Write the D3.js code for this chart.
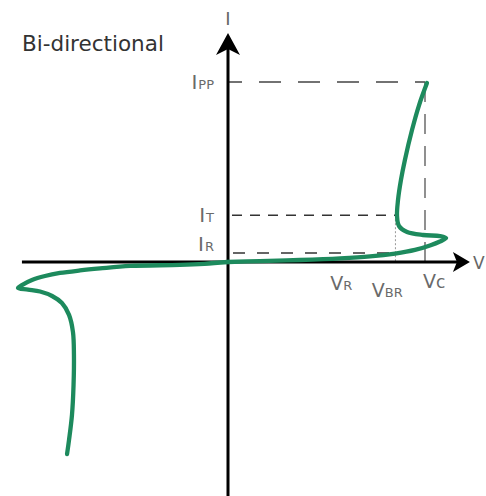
<!DOCTYPE html>
<html>
<head>
<meta charset="utf-8">
<script src="https://cdn.jsdelivr.net/npm/d3@7"></script>
<style>
  html, body { margin: 0; padding: 0; background: #fff; }
  svg { display: block; }
</style>
</head>
<body>
<div id="chart"></div>
<script>
// ---- data (V in units where Vc = 10, I in units where Ipp = 10) ----
const title = "Bi-directional";
const axisNames = ["I", "V"];

// forward (first quadrant) branch, from origin up to Ipp
const forwardV = [0, 1.62, 3.65, 5.69, 7.21, 8.48, 9.49, 10.25, 10.76, 11.07, 10.76, 9.90, 9.09, 8.68, 8.58, 8.63, 8.78, 8.98, 9.34, 9.70, 10.10];
const forwardI = [0, 0.05, 0.11, 0.20, 0.31, 0.47, 0.67, 0.92, 1.14, 1.33, 1.44, 1.50, 1.67, 2.00, 2.56, 3.44, 4.56, 5.67, 7.33, 8.72, 9.94];

// reverse (third quadrant) branch, from origin down
const reverseV = [0, -1.20, -2.44, -4.97, -6.50, -7.51, -8.53, -9.29, -9.95, -10.46, -10.66, -10.15, -9.54, -8.93, -8.43, -8.07, -7.87, -7.82, -7.84, -7.92, -8.07, -8.17];
const reverseI = [0, -0.10, -0.16, -0.22, -0.36, -0.47, -0.61, -0.78, -1.00, -1.28, -1.44, -1.53, -1.64, -1.89, -2.28, -2.94, -3.89, -5.17, -6.83, -8.50, -9.89, -10.67];

// current reference levels
const currentSubs = ["PP", "T", "R"];
const currentValues = [10, 2.6, 0.5];

// voltage reference levels
const voltageSubs = ["R", "BR", "c"];
const voltageValues = [5.6, 8.5, 10];

// axis extents
const vExtent = [-10.46, 12.28];
const iExtent = [-13.0, 12.72];

// ---- layout ----
const W = 486, H = 496;
const x = d3.scaleLinear().domain([0, 10]).range([228, 425]);
const y = d3.scaleLinear().domain([0, 10]).range([262, 82]);

const svg = d3.select("#chart").append("svg")
  .attr("width", W).attr("height", H)
  .attr("viewBox", `0 0 ${W} ${H}`);

const font = "'DejaVu Sans', 'Liberation Sans', sans-serif";
const green = "#1d8a5d";

// title
svg.append("text")
  .attr("x", 22).attr("y", 51)
  .attr("font-family", font).attr("font-size", 21.5)
  .attr("fill", "#333")
  .text(title);

// ---- reference lines ----
const Ipp = currentValues[0], It = currentValues[1], Ir = currentValues[2];
const Vbr = voltageValues[1], Vc = voltageValues[2];

const refs = svg.append("g").attr("fill", "none");
// Ipp horizontal
refs.append("line")
  .attr("x1", x(0)).attr("x2", x(Vc)).attr("y1", y(Ipp)).attr("y2", y(Ipp))
  .attr("stroke", "#444").attr("stroke-width", 1.3).attr("stroke-dasharray", "22,17")
  .attr("stroke-dashoffset", 8);
// Vc vertical
refs.append("line")
  .attr("x1", x(Vc)).attr("x2", x(Vc)).attr("y1", y(Ipp)).attr("y2", y(0))
  .attr("stroke", "#555").attr("stroke-width", 1.3).attr("stroke-dasharray", "20,12");
// It horizontal
refs.append("line")
  .attr("x1", x(0)).attr("x2", x(Vbr)).attr("y1", y(It)).attr("y2", y(It))
  .attr("stroke", "#333").attr("stroke-width", 1.5).attr("stroke-dasharray", "10,8")
  .attr("stroke-dashoffset", -4);
// Vbr vertical (dotted)
refs.append("line")
  .attr("x1", x(Vbr)).attr("x2", x(Vbr)).attr("y1", y(It)).attr("y2", y(0))
  .attr("stroke", "#999").attr("stroke-width", 1).attr("stroke-dasharray", "2,2");
// Ir horizontal
refs.append("line")
  .attr("x1", x(0)).attr("x2", x(Vbr)).attr("y1", y(Ir)).attr("y2", y(Ir))
  .attr("stroke", "#333").attr("stroke-width", 1.5).attr("stroke-dasharray", "12,12")
  .attr("stroke-dashoffset", -5);

// ---- axes ----
const axes = svg.append("g");
const x0 = x(0), y0 = y(0);
// horizontal axis
axes.append("line")
  .attr("x1", x(vExtent[0])).attr("x2", x(vExtent[1]) - 10)
  .attr("y1", y0).attr("y2", y0)
  .attr("stroke", "#000").attr("stroke-width", 3);
axes.append("path")
  .attr("d", `M${x(vExtent[1])},${y0} L${x(vExtent[1]) - 17},${y0 - 10} L${x(vExtent[1]) - 13},${y0} L${x(vExtent[1]) - 17},${y0 + 10} Z`)
  .attr("fill", "#000");
// vertical axis
axes.append("line")
  .attr("x1", x0).attr("x2", x0)
  .attr("y1", y(iExtent[0])).attr("y2", y(iExtent[1]) + 10)
  .attr("stroke", "#000").attr("stroke-width", 3);
axes.append("path")
  .attr("d", `M${x0},${y(iExtent[1])} L${x0 - 12},${y(iExtent[1]) + 22} L${x0},${y(iExtent[1]) + 16} L${x0 + 12},${y(iExtent[1]) + 22} Z`)
  .attr("fill", "#000");

// axis names
svg.append("text")
  .attr("x", x0).attr("y", 25).attr("text-anchor", "middle")
  .attr("font-family", font).attr("font-size", 18).attr("fill", "#666")
  .text(axisNames[0]);
svg.append("text")
  .attr("x", x(vExtent[1]) + 3).attr("y", y0 + 7)
  .attr("font-family", font).attr("font-size", 17).attr("fill", "#666")
  .text(axisNames[1]);

// ---- curve ----
const line = d3.line()
  .x(d => x(d[0])).y(d => y(d[1]))
  .curve(d3.curveCatmullRom.alpha(0.5));

const fwd = forwardV.map((v, i) => [v, forwardI[i]]);
const rev = reverseV.map((v, i) => [v, reverseI[i]]);

[rev, fwd].forEach(data => {
  svg.append("path").datum(data)
    .attr("d", line).attr("fill", "none")
    .attr("stroke", green).attr("stroke-width", 4.3)
    .attr("stroke-linecap", "round").attr("stroke-linejoin", "round");
});

// ---- current labels ----
const iOffsets = [7, 7, -2];
currentSubs.forEach((s, k) => {
  const t = svg.append("text")
    .attr("x", x0 - 14).attr("y", y(currentValues[k]) + iOffsets[k])
    .attr("text-anchor", "end")
    .attr("font-family", font).attr("fill", "#6a6a6a");
  t.append("tspan").attr("font-size", 20).text("I");
  t.append("tspan").attr("font-size", 13).attr("dx", 1).text(s);
});

// ---- voltage labels ----
const vOffsets = [[-0.15, 28], [-0.95, 35], [0.15, 26]];
voltageSubs.forEach((s, k) => {
  const t = svg.append("text")
    .attr("x", x(voltageValues[k] + vOffsets[k][0]) - 5)
    .attr("y", y0 + vOffsets[k][1])
    .attr("font-family", font).attr("fill", "#6a6a6a");
  t.append("tspan").attr("font-size", 19).text("V");
  t.append("tspan").attr("font-size", s === "c" ? 17 : 13).attr("dx", 0).text(s);
});
</script>
</body>
</html>
